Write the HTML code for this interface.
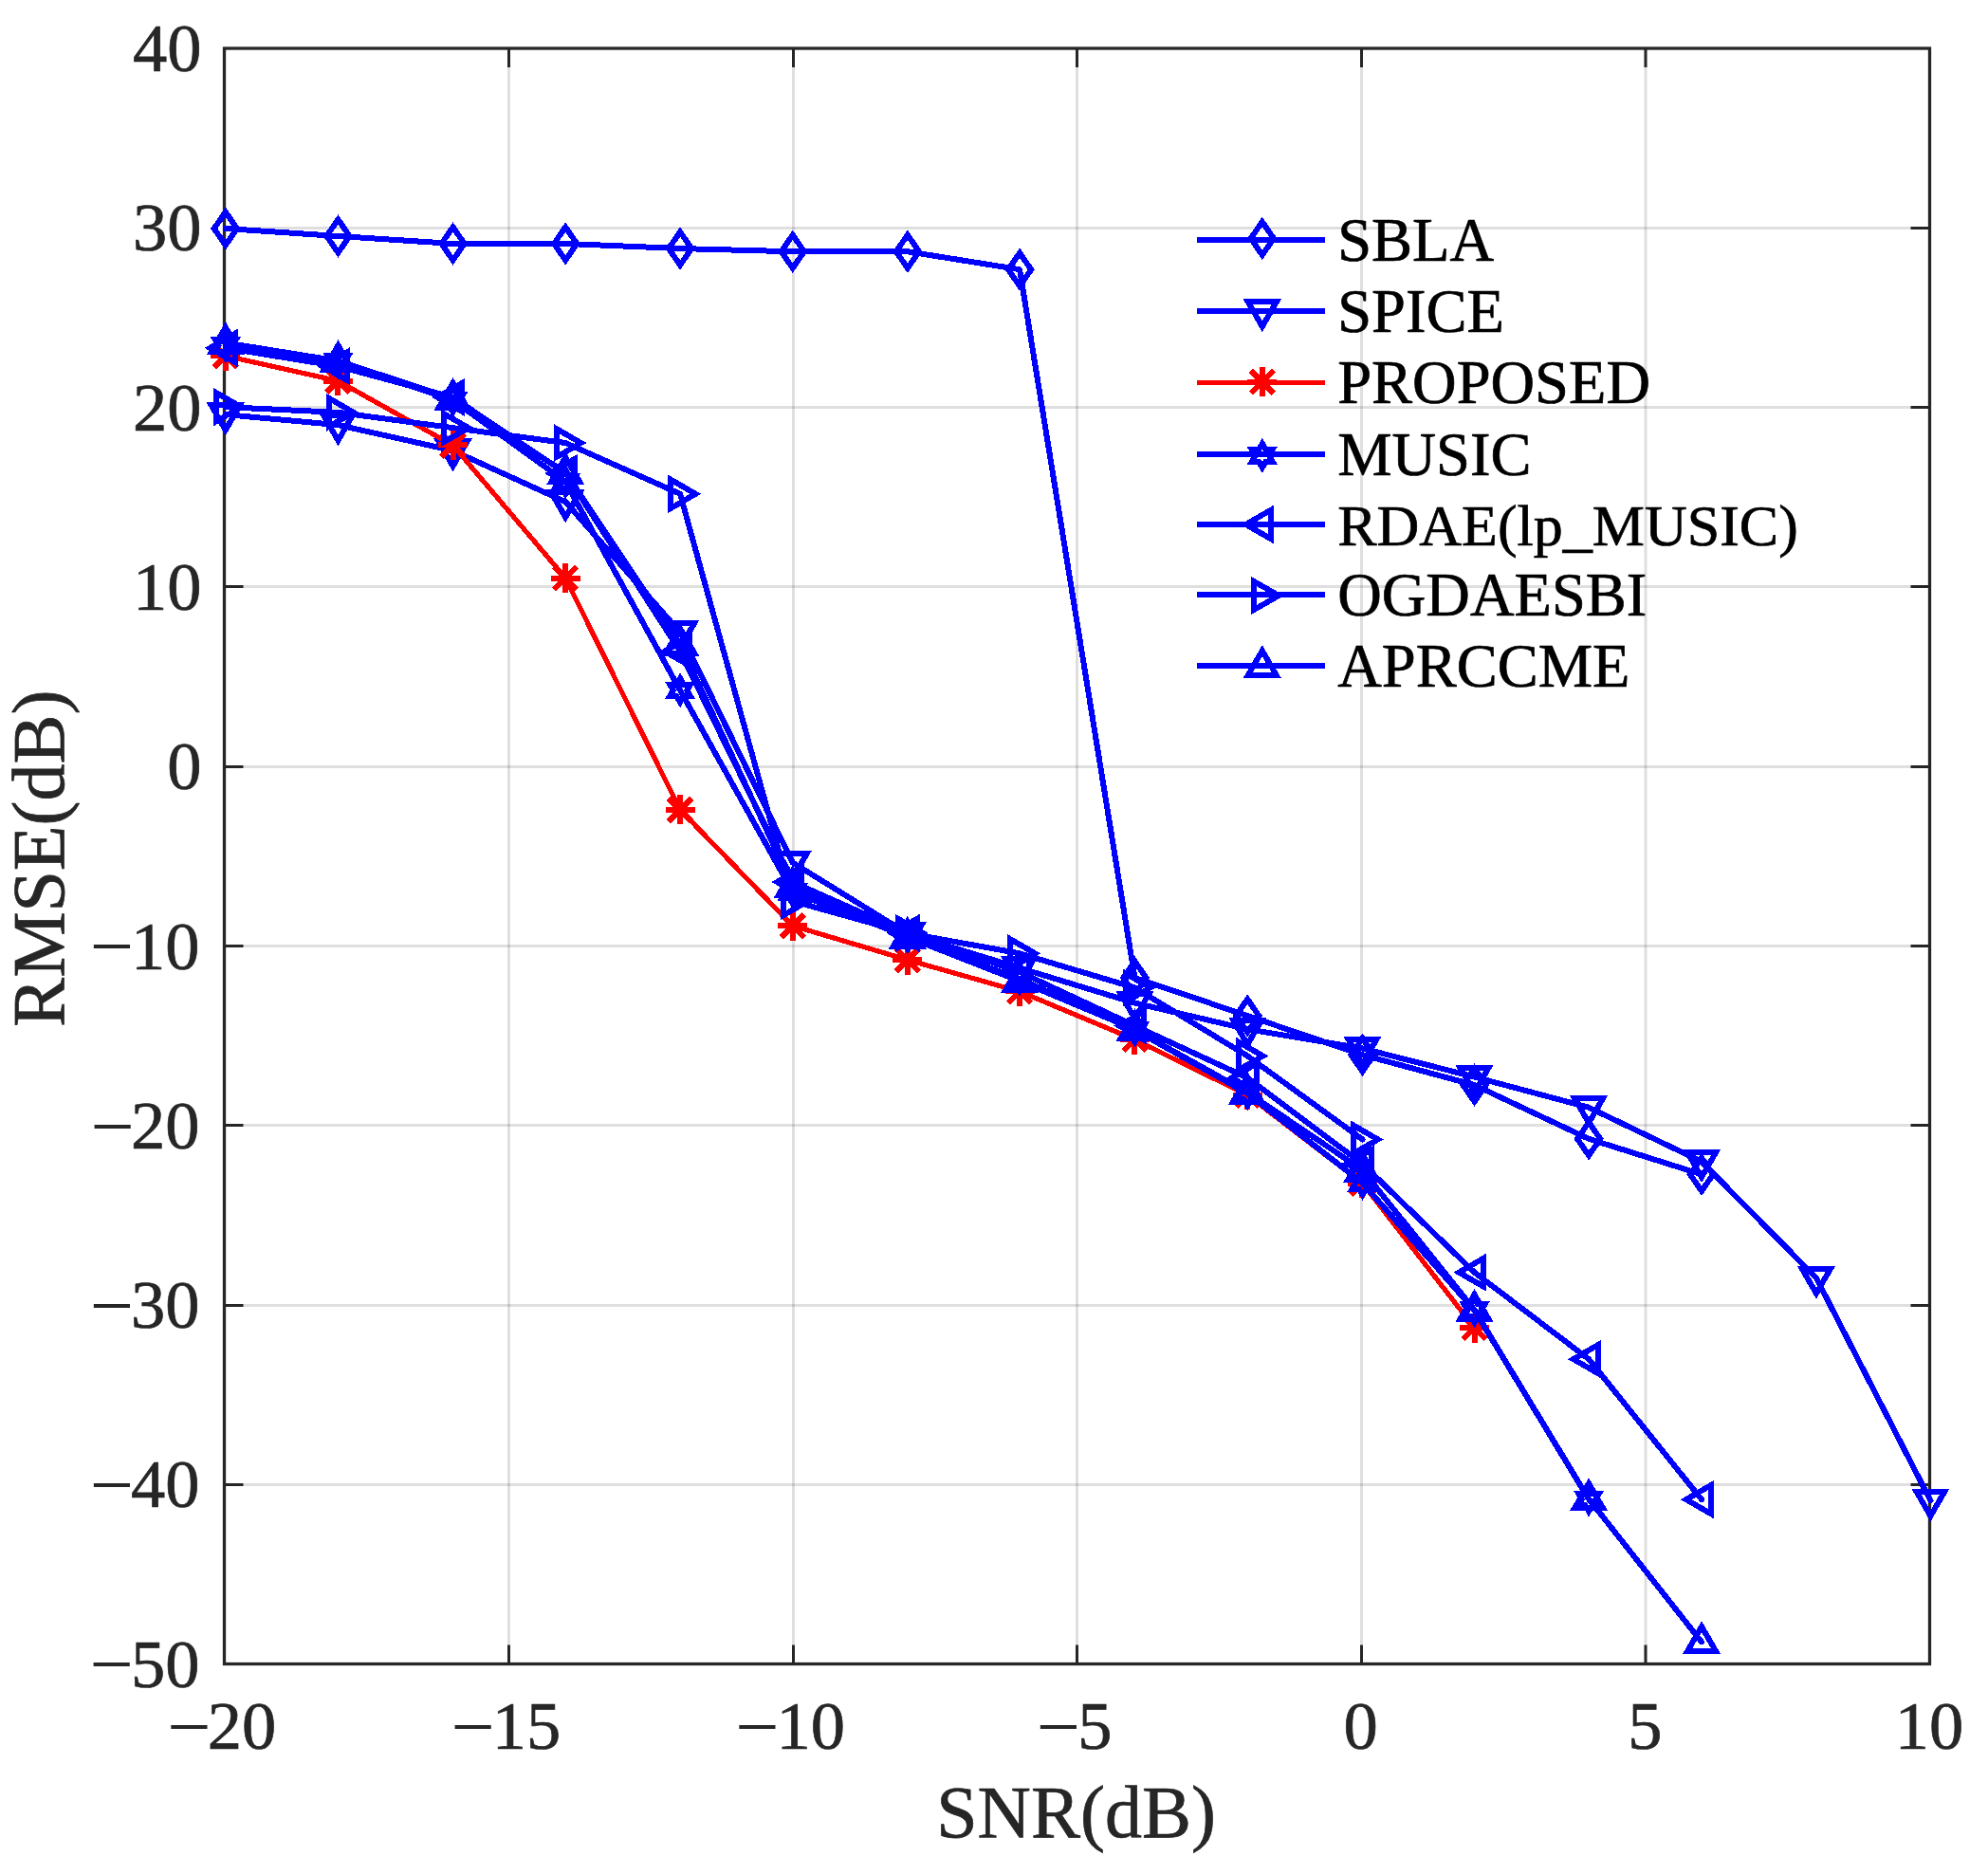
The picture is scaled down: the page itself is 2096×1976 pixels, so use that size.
<!DOCTYPE html>
<html lang="en">
<head>
<meta charset="utf-8">
<title>RMSE versus SNR</title>
<style>
html,body{margin:0;padding:0;background:#fff;}
body{width:2096px;height:1976px;overflow:hidden;}
svg{display:block;}
text{white-space:pre;}
</style>
</head>
<body>
<svg width="2096" height="1976" viewBox="0 0 2096 1976">
<rect width="2096" height="1976" fill="#fff"/>
<path d="M536.5 51V1754.5M836.5 51V1754.5M1135.5 51V1754.5M1435.5 51V1754.5M1735 51V1754.5" stroke="#262626" stroke-opacity="0.15" stroke-width="3" fill="none"/>
<path d="M236.5 1565.5H2034.5M236.5 1376.4H2034.5M236.5 1186.5H2034.5M236.5 997.5H2034.5M236.5 808.5H2034.5M236.5 618.5H2034.5M236.5 429.5H2034.5M236.5 240.5H2034.5" stroke="#262626" stroke-opacity="0.15" stroke-width="3" fill="none"/>
<path d="M536.5 1754.5v-20M536.5 51v20M836.5 1754.5v-20M836.5 51v20M1135.5 1754.5v-20M1135.5 51v20M1435.5 1754.5v-20M1435.5 51v20M1735 1754.5v-20M1735 51v20M236.5 1565.5h20M2034.5 1565.5h-20M236.5 1376.4h20M2034.5 1376.4h-20M236.5 1186.5h20M2034.5 1186.5h-20M236.5 997.5h20M2034.5 997.5h-20M236.5 808.5h20M2034.5 808.5h-20M236.5 618.5h20M2034.5 618.5h-20M236.5 429.5h20M2034.5 429.5h-20M236.5 240.5h20M2034.5 240.5h-20" stroke="#262626" stroke-width="3" fill="none"/>
<rect x="236.5" y="51" width="1798" height="1703.5" fill="none" stroke="#262626" stroke-width="3.3"/>
<g font-family='"Liberation Serif", "Times New Roman", Times, serif' font-size="72.5" fill="#262626" stroke="#262626" stroke-width="0.7">
<text x="212.6" y="75.2" text-anchor="end">40</text>
<text x="212.6" y="264.48" text-anchor="end">30</text>
<text x="212.6" y="453.76" text-anchor="end">20</text>
<text x="212.6" y="643.03" text-anchor="end">10</text>
<text x="212.6" y="832.31" text-anchor="end">0</text>
<text x="210.6" y="1021.59" text-anchor="end"><tspan font-size="82" dy="3.7" stroke="none">−</tspan><tspan dy="-3.7" dx="-3">10</tspan></text>
<text x="210.6" y="1210.87" text-anchor="end"><tspan font-size="82" dy="3.7" stroke="none">−</tspan><tspan dy="-3.7" dx="-3.7">20</tspan></text>
<text x="210.6" y="1400.14" text-anchor="end"><tspan font-size="82" dy="3.7" stroke="none">−</tspan><tspan dy="-3.7" dx="-3">30</tspan></text>
<text x="210.6" y="1589.42" text-anchor="end"><tspan font-size="82" dy="3.7" stroke="none">−</tspan><tspan dy="-3.7" dx="-3">40</tspan></text>
<text x="210.6" y="1778.7" text-anchor="end"><tspan font-size="82" dy="3.7" stroke="none">−</tspan><tspan dy="-3.7" dx="-2.7">50</tspan></text>
<text x="233.7" y="1844.3" text-anchor="middle"><tspan font-size="82" dy="3.7" stroke="none">−</tspan><tspan dy="-3.7" dx="-3.7">20</tspan></text>
<text x="533.37" y="1844.3" text-anchor="middle"><tspan font-size="82" dy="3.7" stroke="none">−</tspan><tspan dy="-3.7" dx="-3">15</tspan></text>
<text x="833.03" y="1844.3" text-anchor="middle"><tspan font-size="82" dy="3.7" stroke="none">−</tspan><tspan dy="-3.7" dx="-3">10</tspan></text>
<text x="1132.7" y="1844.3" text-anchor="middle"><tspan font-size="82" dy="3.7" stroke="none">−</tspan><tspan dy="-3.7" dx="-2.7">5</tspan></text>
<text x="1434.67" y="1844.3" text-anchor="middle">0</text>
<text x="1734.33" y="1844.3" text-anchor="middle">5</text>
<text x="2034" y="1844.3" text-anchor="middle">10</text>
</g>
<g font-family='"Liberation Serif", "Times New Roman", Times, serif' font-size="78" fill="#262626" stroke="#262626" stroke-width="0.7">
<text x="1134.6" y="1936.9" text-anchor="middle">SNR(dB)</text>
<text transform="translate(66.6 905.2) rotate(-90)" text-anchor="middle">RMSE(dB)</text>
</g>
<g shape-rendering="crispEdges">
<polyline points="237.8,241.03 356.47,248.98 477.53,256.93 596.2,256.93 717.07,262.04 835.73,265.26 956.9,265.26 1075.07,284.19 1196.43,1031.08 1315.2,1071.02 1436.47,1112.28 1554.53,1144.08 1675.1,1200.86 1794.07,1238.34" fill="none" stroke="#0000ff" stroke-width="6" stroke-linejoin="round" stroke-linecap="round"/>
<polygon points="237.8,223.53 249.9,241.03 237.8,258.53 225.7,241.03" fill="none" stroke="#0000ff" stroke-width="6" stroke-linejoin="miter" stroke-miterlimit="10"/>
<polygon points="356.47,231.48 368.57,248.98 356.47,266.48 344.37,248.98" fill="none" stroke="#0000ff" stroke-width="6" stroke-linejoin="miter" stroke-miterlimit="10"/>
<polygon points="477.53,239.43 489.63,256.93 477.53,274.43 465.43,256.93" fill="none" stroke="#0000ff" stroke-width="6" stroke-linejoin="miter" stroke-miterlimit="10"/>
<polygon points="596.2,239.43 608.3,256.93 596.2,274.43 584.1,256.93" fill="none" stroke="#0000ff" stroke-width="6" stroke-linejoin="miter" stroke-miterlimit="10"/>
<polygon points="717.07,244.54 729.17,262.04 717.07,279.54 704.97,262.04" fill="none" stroke="#0000ff" stroke-width="6" stroke-linejoin="miter" stroke-miterlimit="10"/>
<polygon points="835.73,247.76 847.83,265.26 835.73,282.76 823.63,265.26" fill="none" stroke="#0000ff" stroke-width="6" stroke-linejoin="miter" stroke-miterlimit="10"/>
<polygon points="956.9,247.76 969,265.26 956.9,282.76 944.8,265.26" fill="none" stroke="#0000ff" stroke-width="6" stroke-linejoin="miter" stroke-miterlimit="10"/>
<polygon points="1075.07,266.69 1087.17,284.19 1075.07,301.69 1062.97,284.19" fill="none" stroke="#0000ff" stroke-width="6" stroke-linejoin="miter" stroke-miterlimit="10"/>
<polygon points="1196.43,1013.58 1208.53,1031.08 1196.43,1048.58 1184.33,1031.08" fill="none" stroke="#0000ff" stroke-width="6" stroke-linejoin="miter" stroke-miterlimit="10"/>
<polygon points="1315.2,1053.52 1327.3,1071.02 1315.2,1088.52 1303.1,1071.02" fill="none" stroke="#0000ff" stroke-width="6" stroke-linejoin="miter" stroke-miterlimit="10"/>
<polygon points="1436.47,1094.78 1448.57,1112.28 1436.47,1129.78 1424.37,1112.28" fill="none" stroke="#0000ff" stroke-width="6" stroke-linejoin="miter" stroke-miterlimit="10"/>
<polygon points="1554.53,1126.58 1566.63,1144.08 1554.53,1161.58 1542.43,1144.08" fill="none" stroke="#0000ff" stroke-width="6" stroke-linejoin="miter" stroke-miterlimit="10"/>
<polygon points="1675.1,1183.36 1687.2,1200.86 1675.1,1218.36 1663,1200.86" fill="none" stroke="#0000ff" stroke-width="6" stroke-linejoin="miter" stroke-miterlimit="10"/>
<polygon points="1794.07,1220.84 1806.17,1238.34 1794.07,1255.84 1781.97,1238.34" fill="none" stroke="#0000ff" stroke-width="6" stroke-linejoin="miter" stroke-miterlimit="10"/>
</g>
<g shape-rendering="crispEdges">
<polyline points="237.8,437.13 356.47,448.1 477.53,475.17 596.2,529.12 717.07,666.72 835.73,909.56 956.9,984.52 1075.07,1020.67 1196.43,1057.58 1315.2,1085.21 1436.47,1105.47 1554.53,1135.56 1675.1,1167.74 1794.07,1224.9 1914.93,1347.55 2035.4,1582.26" fill="none" stroke="#0000ff" stroke-width="6" stroke-linejoin="round" stroke-linecap="round"/>
<polygon points="222.8,427.43 252.8,427.43 237.8,453.43" fill="none" stroke="#0000ff" stroke-width="6" stroke-linejoin="miter" stroke-miterlimit="10"/>
<polygon points="341.47,438.4 371.47,438.4 356.47,464.4" fill="none" stroke="#0000ff" stroke-width="6" stroke-linejoin="miter" stroke-miterlimit="10"/>
<polygon points="462.53,465.47 492.53,465.47 477.53,491.47" fill="none" stroke="#0000ff" stroke-width="6" stroke-linejoin="miter" stroke-miterlimit="10"/>
<polygon points="581.2,519.42 611.2,519.42 596.2,545.42" fill="none" stroke="#0000ff" stroke-width="6" stroke-linejoin="miter" stroke-miterlimit="10"/>
<polygon points="702.07,657.02 732.07,657.02 717.07,683.02" fill="none" stroke="#0000ff" stroke-width="6" stroke-linejoin="miter" stroke-miterlimit="10"/>
<polygon points="820.73,899.86 850.73,899.86 835.73,925.86" fill="none" stroke="#0000ff" stroke-width="6" stroke-linejoin="miter" stroke-miterlimit="10"/>
<polygon points="941.9,974.82 971.9,974.82 956.9,1000.82" fill="none" stroke="#0000ff" stroke-width="6" stroke-linejoin="miter" stroke-miterlimit="10"/>
<polygon points="1060.07,1010.97 1090.07,1010.97 1075.07,1036.97" fill="none" stroke="#0000ff" stroke-width="6" stroke-linejoin="miter" stroke-miterlimit="10"/>
<polygon points="1181.43,1047.88 1211.43,1047.88 1196.43,1073.88" fill="none" stroke="#0000ff" stroke-width="6" stroke-linejoin="miter" stroke-miterlimit="10"/>
<polygon points="1300.2,1075.51 1330.2,1075.51 1315.2,1101.51" fill="none" stroke="#0000ff" stroke-width="6" stroke-linejoin="miter" stroke-miterlimit="10"/>
<polygon points="1421.47,1095.77 1451.47,1095.77 1436.47,1121.77" fill="none" stroke="#0000ff" stroke-width="6" stroke-linejoin="miter" stroke-miterlimit="10"/>
<polygon points="1539.53,1125.86 1569.53,1125.86 1554.53,1151.86" fill="none" stroke="#0000ff" stroke-width="6" stroke-linejoin="miter" stroke-miterlimit="10"/>
<polygon points="1660.1,1158.04 1690.1,1158.04 1675.1,1184.04" fill="none" stroke="#0000ff" stroke-width="6" stroke-linejoin="miter" stroke-miterlimit="10"/>
<polygon points="1779.07,1215.2 1809.07,1215.2 1794.07,1241.2" fill="none" stroke="#0000ff" stroke-width="6" stroke-linejoin="miter" stroke-miterlimit="10"/>
<polygon points="1899.93,1337.85 1929.93,1337.85 1914.93,1363.85" fill="none" stroke="#0000ff" stroke-width="6" stroke-linejoin="miter" stroke-miterlimit="10"/>
<polygon points="2020.4,1572.56 2050.4,1572.56 2035.4,1598.56" fill="none" stroke="#0000ff" stroke-width="6" stroke-linejoin="miter" stroke-miterlimit="10"/>
</g>
<g shape-rendering="crispEdges">
<polyline points="237.8,375.23 356.47,401.73 477.53,469.49 596.2,609.56 717.07,853.92 835.73,976.19 956.9,1012.15 1075.07,1045.47 1196.43,1096.19 1315.2,1154.68 1436.47,1247.61 1554.53,1400.17" fill="none" stroke="#ff0000" stroke-width="5.2" stroke-linejoin="round" stroke-linecap="round"/>
<path d="M237.8 359.73V390.73M222.3 375.23H253.3M225.7 363.13L249.9 387.33M225.7 387.33L249.9 363.13" fill="none" stroke="#ff0000" stroke-width="6"/>
<path d="M356.47 386.23V417.23M340.97 401.73H371.97M344.37 389.63L368.57 413.83M344.37 413.83L368.57 389.63" fill="none" stroke="#ff0000" stroke-width="6"/>
<path d="M477.53 453.99V484.99M462.03 469.49H493.03M465.43 457.39L489.63 481.59M465.43 481.59L489.63 457.39" fill="none" stroke="#ff0000" stroke-width="6"/>
<path d="M596.2 594.06V625.06M580.7 609.56H611.7M584.1 597.46L608.3 621.66M584.1 621.66L608.3 597.46" fill="none" stroke="#ff0000" stroke-width="6"/>
<path d="M717.07 838.42V869.42M701.57 853.92H732.57M704.97 841.82L729.17 866.02M704.97 866.02L729.17 841.82" fill="none" stroke="#ff0000" stroke-width="6"/>
<path d="M835.73 960.69V991.69M820.23 976.19H851.23M823.63 964.09L847.83 988.29M823.63 988.29L847.83 964.09" fill="none" stroke="#ff0000" stroke-width="6"/>
<path d="M956.9 996.65V1027.65M941.4 1012.15H972.4M944.8 1000.05L969 1024.25M944.8 1024.25L969 1000.05" fill="none" stroke="#ff0000" stroke-width="6"/>
<path d="M1075.07 1029.97V1060.97M1059.57 1045.47H1090.57M1062.97 1033.37L1087.17 1057.57M1062.97 1057.57L1087.17 1033.37" fill="none" stroke="#ff0000" stroke-width="6"/>
<path d="M1196.43 1080.69V1111.69M1180.93 1096.19H1211.93M1184.33 1084.09L1208.53 1108.29M1184.33 1108.29L1208.53 1084.09" fill="none" stroke="#ff0000" stroke-width="6"/>
<path d="M1315.2 1139.18V1170.18M1299.7 1154.68H1330.7M1303.1 1142.58L1327.3 1166.78M1303.1 1166.78L1327.3 1142.58" fill="none" stroke="#ff0000" stroke-width="6"/>
<path d="M1436.47 1232.11V1263.11M1420.97 1247.61H1451.97M1424.37 1235.51L1448.57 1259.71M1424.37 1259.71L1448.57 1235.51" fill="none" stroke="#ff0000" stroke-width="6"/>
<path d="M1554.53 1384.67V1415.67M1539.03 1400.17H1570.03M1542.43 1388.07L1566.63 1412.27M1542.43 1412.27L1566.63 1388.07" fill="none" stroke="#ff0000" stroke-width="6"/>
</g>
<g shape-rendering="crispEdges">
<polyline points="237.8,364.63 356.47,381.1 477.53,421.98 596.2,507.92 717.07,727.86 835.73,940.42 956.9,987.93 1075.07,1032.22 1196.43,1085.97 1315.2,1152.98 1436.47,1247.24 1554.53,1381.62 1675.1,1580.93" fill="none" stroke="#0000ff" stroke-width="6" stroke-linejoin="round" stroke-linecap="round"/>
<polygon points="237.8,352.03 241.44,358.33 248.71,358.33 245.07,364.63 248.71,370.93 241.44,370.93 237.8,377.23 234.16,370.93 226.89,370.93 230.53,364.63 226.89,358.33 234.16,358.33" fill="none" stroke="#0000ff" stroke-width="6" stroke-linejoin="miter" stroke-miterlimit="10"/>
<polygon points="356.47,368.5 360.1,374.8 367.38,374.8 363.74,381.1 367.38,387.4 360.1,387.4 356.47,393.7 352.83,387.4 345.55,387.4 349.19,381.1 345.55,374.8 352.83,374.8" fill="none" stroke="#0000ff" stroke-width="6" stroke-linejoin="miter" stroke-miterlimit="10"/>
<polygon points="477.53,409.38 481.17,415.68 488.45,415.68 484.81,421.98 488.45,428.28 481.17,428.28 477.53,434.58 473.9,428.28 466.62,428.28 470.26,421.98 466.62,415.68 473.9,415.68" fill="none" stroke="#0000ff" stroke-width="6" stroke-linejoin="miter" stroke-miterlimit="10"/>
<polygon points="596.2,495.32 599.84,501.62 607.11,501.62 603.47,507.92 607.11,514.22 599.84,514.22 596.2,520.52 592.56,514.22 585.29,514.22 588.93,507.92 585.29,501.62 592.56,501.62" fill="none" stroke="#0000ff" stroke-width="6" stroke-linejoin="miter" stroke-miterlimit="10"/>
<polygon points="717.07,715.26 720.7,721.56 727.98,721.56 724.34,727.86 727.98,734.16 720.7,734.16 717.07,740.46 713.43,734.16 706.15,734.16 709.79,727.86 706.15,721.56 713.43,721.56" fill="none" stroke="#0000ff" stroke-width="6" stroke-linejoin="miter" stroke-miterlimit="10"/>
<polygon points="835.73,927.82 839.37,934.12 846.65,934.12 843.01,940.42 846.65,946.72 839.37,946.72 835.73,953.02 832.1,946.72 824.82,946.72 828.46,940.42 824.82,934.12 832.1,934.12" fill="none" stroke="#0000ff" stroke-width="6" stroke-linejoin="miter" stroke-miterlimit="10"/>
<polygon points="956.9,975.33 960.54,981.63 967.81,981.63 964.17,987.93 967.81,994.23 960.54,994.23 956.9,1000.53 953.26,994.23 945.99,994.23 949.63,987.93 945.99,981.63 953.26,981.63" fill="none" stroke="#0000ff" stroke-width="6" stroke-linejoin="miter" stroke-miterlimit="10"/>
<polygon points="1075.07,1019.62 1078.7,1025.92 1085.98,1025.92 1082.34,1032.22 1085.98,1038.52 1078.7,1038.52 1075.07,1044.82 1071.43,1038.52 1064.15,1038.52 1067.79,1032.22 1064.15,1025.92 1071.43,1025.92" fill="none" stroke="#0000ff" stroke-width="6" stroke-linejoin="miter" stroke-miterlimit="10"/>
<polygon points="1196.43,1073.37 1200.07,1079.67 1207.35,1079.67 1203.71,1085.97 1207.35,1092.27 1200.07,1092.27 1196.43,1098.57 1192.8,1092.27 1185.52,1092.27 1189.16,1085.97 1185.52,1079.67 1192.8,1079.67" fill="none" stroke="#0000ff" stroke-width="6" stroke-linejoin="miter" stroke-miterlimit="10"/>
<polygon points="1315.2,1140.38 1318.84,1146.68 1326.11,1146.68 1322.47,1152.98 1326.11,1159.28 1318.84,1159.28 1315.2,1165.58 1311.56,1159.28 1304.29,1159.28 1307.93,1152.98 1304.29,1146.68 1311.56,1146.68" fill="none" stroke="#0000ff" stroke-width="6" stroke-linejoin="miter" stroke-miterlimit="10"/>
<polygon points="1436.47,1234.64 1440.1,1240.94 1447.38,1240.94 1443.74,1247.24 1447.38,1253.54 1440.1,1253.54 1436.47,1259.84 1432.83,1253.54 1425.55,1253.54 1429.19,1247.24 1425.55,1240.94 1432.83,1240.94" fill="none" stroke="#0000ff" stroke-width="6" stroke-linejoin="miter" stroke-miterlimit="10"/>
<polygon points="1554.53,1369.02 1558.17,1375.32 1565.45,1375.32 1561.81,1381.62 1565.45,1387.92 1558.17,1387.92 1554.53,1394.22 1550.9,1387.92 1543.62,1387.92 1547.26,1381.62 1543.62,1375.32 1550.9,1375.32" fill="none" stroke="#0000ff" stroke-width="6" stroke-linejoin="miter" stroke-miterlimit="10"/>
<polygon points="1675.1,1568.33 1678.74,1574.63 1686.01,1574.63 1682.37,1580.93 1686.01,1587.23 1678.74,1587.23 1675.1,1593.53 1671.46,1587.23 1664.19,1587.23 1667.83,1580.93 1664.19,1574.63 1671.46,1574.63" fill="none" stroke="#0000ff" stroke-width="6" stroke-linejoin="miter" stroke-miterlimit="10"/>
</g>
<g shape-rendering="crispEdges">
<polyline points="237.8,366.9 356.47,386.21 477.53,418.96 596.2,499.02 717.07,686.78 835.73,930.01 956.9,983.95 1075.07,1024.83 1196.43,1081.62 1315.2,1136.51 1436.47,1227.17 1554.53,1341.69 1675.1,1433.11 1794.07,1581.12" fill="none" stroke="#0000ff" stroke-width="6" stroke-linejoin="round" stroke-linecap="round"/>
<polygon points="247.5,351.9 247.5,381.9 221.5,366.9" fill="none" stroke="#0000ff" stroke-width="6" stroke-linejoin="miter" stroke-miterlimit="10"/>
<polygon points="366.17,371.21 366.17,401.21 340.17,386.21" fill="none" stroke="#0000ff" stroke-width="6" stroke-linejoin="miter" stroke-miterlimit="10"/>
<polygon points="487.23,403.96 487.23,433.96 461.23,418.96" fill="none" stroke="#0000ff" stroke-width="6" stroke-linejoin="miter" stroke-miterlimit="10"/>
<polygon points="605.9,484.02 605.9,514.02 579.9,499.02" fill="none" stroke="#0000ff" stroke-width="6" stroke-linejoin="miter" stroke-miterlimit="10"/>
<polygon points="726.77,671.78 726.77,701.78 700.77,686.78" fill="none" stroke="#0000ff" stroke-width="6" stroke-linejoin="miter" stroke-miterlimit="10"/>
<polygon points="845.43,915.01 845.43,945.01 819.43,930.01" fill="none" stroke="#0000ff" stroke-width="6" stroke-linejoin="miter" stroke-miterlimit="10"/>
<polygon points="966.6,968.95 966.6,998.95 940.6,983.95" fill="none" stroke="#0000ff" stroke-width="6" stroke-linejoin="miter" stroke-miterlimit="10"/>
<polygon points="1084.77,1009.83 1084.77,1039.83 1058.77,1024.83" fill="none" stroke="#0000ff" stroke-width="6" stroke-linejoin="miter" stroke-miterlimit="10"/>
<polygon points="1206.13,1066.62 1206.13,1096.62 1180.13,1081.62" fill="none" stroke="#0000ff" stroke-width="6" stroke-linejoin="miter" stroke-miterlimit="10"/>
<polygon points="1324.9,1121.51 1324.9,1151.51 1298.9,1136.51" fill="none" stroke="#0000ff" stroke-width="6" stroke-linejoin="miter" stroke-miterlimit="10"/>
<polygon points="1446.17,1212.17 1446.17,1242.17 1420.17,1227.17" fill="none" stroke="#0000ff" stroke-width="6" stroke-linejoin="miter" stroke-miterlimit="10"/>
<polygon points="1564.23,1326.69 1564.23,1356.69 1538.23,1341.69" fill="none" stroke="#0000ff" stroke-width="6" stroke-linejoin="miter" stroke-miterlimit="10"/>
<polygon points="1684.8,1418.11 1684.8,1448.11 1658.8,1433.11" fill="none" stroke="#0000ff" stroke-width="6" stroke-linejoin="miter" stroke-miterlimit="10"/>
<polygon points="1803.77,1566.12 1803.77,1596.12 1777.77,1581.12" fill="none" stroke="#0000ff" stroke-width="6" stroke-linejoin="miter" stroke-miterlimit="10"/>
</g>
<g shape-rendering="crispEdges">
<polyline points="237.8,429.18 356.47,434.86 477.53,451.13 596.2,467.03 717.07,520.79 835.73,950.07 956.9,983.95 1075.07,1005.34 1196.43,1041.49 1315.2,1113.42 1436.47,1201.43" fill="none" stroke="#0000ff" stroke-width="6" stroke-linejoin="round" stroke-linecap="round"/>
<polygon points="228.1,414.18 228.1,444.18 254.1,429.18" fill="none" stroke="#0000ff" stroke-width="6" stroke-linejoin="miter" stroke-miterlimit="10"/>
<polygon points="346.77,419.86 346.77,449.86 372.77,434.86" fill="none" stroke="#0000ff" stroke-width="6" stroke-linejoin="miter" stroke-miterlimit="10"/>
<polygon points="467.83,436.13 467.83,466.13 493.83,451.13" fill="none" stroke="#0000ff" stroke-width="6" stroke-linejoin="miter" stroke-miterlimit="10"/>
<polygon points="586.5,452.03 586.5,482.03 612.5,467.03" fill="none" stroke="#0000ff" stroke-width="6" stroke-linejoin="miter" stroke-miterlimit="10"/>
<polygon points="707.37,505.79 707.37,535.79 733.37,520.79" fill="none" stroke="#0000ff" stroke-width="6" stroke-linejoin="miter" stroke-miterlimit="10"/>
<polygon points="826.03,935.07 826.03,965.07 852.03,950.07" fill="none" stroke="#0000ff" stroke-width="6" stroke-linejoin="miter" stroke-miterlimit="10"/>
<polygon points="947.2,968.95 947.2,998.95 973.2,983.95" fill="none" stroke="#0000ff" stroke-width="6" stroke-linejoin="miter" stroke-miterlimit="10"/>
<polygon points="1065.37,990.34 1065.37,1020.34 1091.37,1005.34" fill="none" stroke="#0000ff" stroke-width="6" stroke-linejoin="miter" stroke-miterlimit="10"/>
<polygon points="1186.73,1026.49 1186.73,1056.49 1212.73,1041.49" fill="none" stroke="#0000ff" stroke-width="6" stroke-linejoin="miter" stroke-miterlimit="10"/>
<polygon points="1305.5,1098.42 1305.5,1128.42 1331.5,1113.42" fill="none" stroke="#0000ff" stroke-width="6" stroke-linejoin="miter" stroke-miterlimit="10"/>
<polygon points="1426.77,1186.43 1426.77,1216.43 1452.77,1201.43" fill="none" stroke="#0000ff" stroke-width="6" stroke-linejoin="miter" stroke-miterlimit="10"/>
</g>
<g shape-rendering="crispEdges">
<polyline points="237.8,361.42 356.47,380.53 477.53,420.28 596.2,498.45 717.07,679.02 835.73,934.36 956.9,988.11 1075.07,1034.49 1196.43,1085.59 1315.2,1151.84 1436.47,1233.8 1554.53,1381.24 1675.1,1580.55 1794.07,1731.41" fill="none" stroke="#0000ff" stroke-width="6" stroke-linejoin="round" stroke-linecap="round"/>
<polygon points="222.8,371.12 252.8,371.12 237.8,345.12" fill="none" stroke="#0000ff" stroke-width="6" stroke-linejoin="miter" stroke-miterlimit="10"/>
<polygon points="341.47,390.23 371.47,390.23 356.47,364.23" fill="none" stroke="#0000ff" stroke-width="6" stroke-linejoin="miter" stroke-miterlimit="10"/>
<polygon points="462.53,429.98 492.53,429.98 477.53,403.98" fill="none" stroke="#0000ff" stroke-width="6" stroke-linejoin="miter" stroke-miterlimit="10"/>
<polygon points="581.2,508.15 611.2,508.15 596.2,482.15" fill="none" stroke="#0000ff" stroke-width="6" stroke-linejoin="miter" stroke-miterlimit="10"/>
<polygon points="702.07,688.72 732.07,688.72 717.07,662.72" fill="none" stroke="#0000ff" stroke-width="6" stroke-linejoin="miter" stroke-miterlimit="10"/>
<polygon points="820.73,944.06 850.73,944.06 835.73,918.06" fill="none" stroke="#0000ff" stroke-width="6" stroke-linejoin="miter" stroke-miterlimit="10"/>
<polygon points="941.9,997.81 971.9,997.81 956.9,971.81" fill="none" stroke="#0000ff" stroke-width="6" stroke-linejoin="miter" stroke-miterlimit="10"/>
<polygon points="1060.07,1044.19 1090.07,1044.19 1075.07,1018.19" fill="none" stroke="#0000ff" stroke-width="6" stroke-linejoin="miter" stroke-miterlimit="10"/>
<polygon points="1181.43,1095.29 1211.43,1095.29 1196.43,1069.29" fill="none" stroke="#0000ff" stroke-width="6" stroke-linejoin="miter" stroke-miterlimit="10"/>
<polygon points="1300.2,1161.54 1330.2,1161.54 1315.2,1135.54" fill="none" stroke="#0000ff" stroke-width="6" stroke-linejoin="miter" stroke-miterlimit="10"/>
<polygon points="1421.47,1243.5 1451.47,1243.5 1436.47,1217.5" fill="none" stroke="#0000ff" stroke-width="6" stroke-linejoin="miter" stroke-miterlimit="10"/>
<polygon points="1539.53,1390.94 1569.53,1390.94 1554.53,1364.94" fill="none" stroke="#0000ff" stroke-width="6" stroke-linejoin="miter" stroke-miterlimit="10"/>
<polygon points="1660.1,1590.25 1690.1,1590.25 1675.1,1564.25" fill="none" stroke="#0000ff" stroke-width="6" stroke-linejoin="miter" stroke-miterlimit="10"/>
<polygon points="1779.07,1741.11 1809.07,1741.11 1794.07,1715.11" fill="none" stroke="#0000ff" stroke-width="6" stroke-linejoin="miter" stroke-miterlimit="10"/>
</g>
<g font-family='"Liberation Serif", "Times New Roman", Times, serif' font-size="64.5" fill="#000">
<g shape-rendering="crispEdges">
<path d="M1262 252.9H1397" stroke="#0000ff" stroke-width="6" fill="none"/>
<polygon points="1330.8,233.9 1342.9,251.4 1330.8,268.9 1318.7,251.4" fill="none" stroke="#0000ff" stroke-width="6" stroke-linejoin="miter" stroke-miterlimit="10"/>
</g>
<text x="1410.2" y="274.5" stroke="#000" stroke-width="0.7">SBLA</text>
<g shape-rendering="crispEdges">
<path d="M1262 327.9H1397" stroke="#0000ff" stroke-width="6" fill="none"/>
<polygon points="1315.8,318.3 1345.8,318.3 1330.8,344.3" fill="none" stroke="#0000ff" stroke-width="6" stroke-linejoin="miter" stroke-miterlimit="10"/>
</g>
<text x="1410.2" y="349.5" stroke="#000" stroke-width="0.7">SPICE</text>
<g shape-rendering="crispEdges">
<path d="M1262 403.5H1397" stroke="#ff0000" stroke-width="5.2" fill="none"/>
<path d="M1330.8 387.1V418.1M1315.3 402.6H1346.3M1318.7 390.5L1342.9 414.7M1318.7 414.7L1342.9 390.5" fill="none" stroke="#ff0000" stroke-width="6"/>
</g>
<text x="1410.2" y="425.1" stroke="#000" stroke-width="0.7">PROPOSED</text>
<g shape-rendering="crispEdges">
<path d="M1262 479H1397" stroke="#0000ff" stroke-width="6" fill="none"/>
<polygon points="1330.8,467.8 1334.44,474.1 1341.71,474.1 1338.07,480.4 1341.71,486.7 1334.44,486.7 1330.8,493 1327.16,486.7 1319.89,486.7 1323.53,480.4 1319.89,474.1 1327.16,474.1" fill="none" stroke="#0000ff" stroke-width="6" stroke-linejoin="miter" stroke-miterlimit="10"/>
</g>
<text x="1410.2" y="500.6" stroke="#000" stroke-width="0.7">MUSIC</text>
<g shape-rendering="crispEdges">
<path d="M1262 552.9H1397" stroke="#0000ff" stroke-width="6" fill="none"/>
<polygon points="1339.5,538 1339.5,568 1313.5,553" fill="none" stroke="#0000ff" stroke-width="6" stroke-linejoin="miter" stroke-miterlimit="10"/>
</g>
<text x="1410.2" y="574.5" font-size="62" stroke="#000" stroke-width="0.7">RDAE(lp_MUSIC)</text>
<g shape-rendering="crispEdges">
<path d="M1262 626.9H1397" stroke="#0000ff" stroke-width="6" fill="none"/>
<polygon points="1322.1,613 1322.1,643 1348.1,628" fill="none" stroke="#0000ff" stroke-width="6" stroke-linejoin="miter" stroke-miterlimit="10"/>
</g>
<text x="1410.2" y="648.5" stroke="#000" stroke-width="0.7">OGDAESBI</text>
<g shape-rendering="crispEdges">
<path d="M1262 702.4H1397" stroke="#0000ff" stroke-width="6" fill="none"/>
<polygon points="1315.8,712.1 1345.8,712.1 1330.8,686.1" fill="none" stroke="#0000ff" stroke-width="6" stroke-linejoin="miter" stroke-miterlimit="10"/>
</g>
<text x="1410.2" y="724" stroke="#000" stroke-width="0.7">APRCCME</text>
</g>
</svg>
</body>
</html>
